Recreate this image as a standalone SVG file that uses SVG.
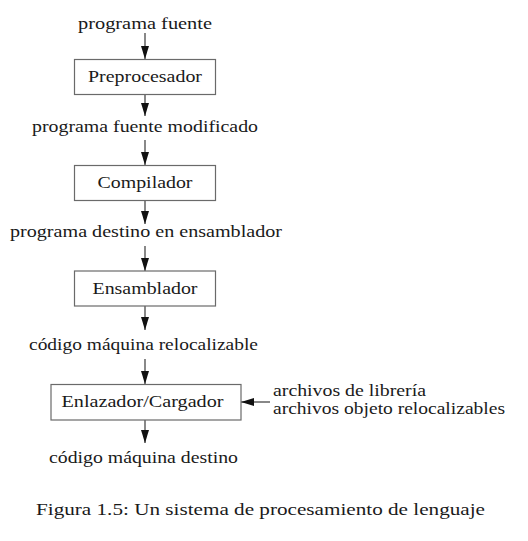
<svg xmlns="http://www.w3.org/2000/svg" width="528" height="541" viewBox="0 0 528 541">
<style>
  .bg { fill: #ffffff; }
  .box { fill: #ffffff; stroke: #6a6a6a; stroke-width: 1.2; }
  .t { font-family: "Liberation Serif", "DejaVu Serif", serif; font-size: 17.5px; fill: #1a1a1a; }
  .s { font-size: 16px; }
  .c { text-anchor: middle; }
  .edge { stroke: #3a3a3a; stroke-width: 1.2; fill: none; marker-end: url(#ah); }
</style>
<defs>
  <marker id="ah" viewBox="0 0 13 8" refX="13" refY="4" markerWidth="13" markerHeight="8" markerUnits="userSpaceOnUse" orient="auto">
    <path d="M0,0 L13,4 L0,8 Z" fill="#111111"/>
  </marker>
</defs>
<rect class="bg" x="0" y="0" width="528" height="541"/>

<g id="connectors">
  <line class="edge" x1="145" y1="33" x2="145" y2="59"/>
  <line class="edge" x1="145" y1="94" x2="145" y2="116"/>
  <line class="edge" x1="145" y1="140" x2="145" y2="165"/>
  <line class="edge" x1="145" y1="200" x2="145" y2="224"/>
  <line class="edge" x1="145" y1="246" x2="145" y2="271"/>
  <line class="edge" x1="145" y1="306" x2="145" y2="330"/>
  <line class="edge" x1="145" y1="359" x2="145" y2="384"/>
  <line class="edge" x1="145" y1="420" x2="145" y2="443"/>
  <line class="edge" x1="270" y1="402" x2="241" y2="402"/>
</g>

<g id="label-programa-fuente">
  <text class="t c" x="145" y="29" textLength="134" lengthAdjust="spacingAndGlyphs">programa fuente</text>
</g>
<g id="node-preprocesador">
  <rect class="box" x="74.5" y="59.5" width="141" height="35"/>
  <text class="t c" x="145" y="82" textLength="114" lengthAdjust="spacingAndGlyphs">Preprocesador</text>
</g>
<g id="label-programa-fuente-modificado">
  <text class="t c" x="145" y="132" textLength="226" lengthAdjust="spacingAndGlyphs">programa fuente modificado</text>
</g>
<g id="node-compilador">
  <rect class="box" x="74.5" y="165.5" width="141" height="35"/>
  <text class="t c" x="145" y="188" textLength="95" lengthAdjust="spacingAndGlyphs">Compilador</text>
</g>
<g id="label-programa-destino">
  <text class="t c" x="146" y="237" textLength="272" lengthAdjust="spacingAndGlyphs">programa destino en ensamblador</text>
</g>
<g id="node-ensamblador">
  <rect class="box" x="74.5" y="271" width="141" height="35"/>
  <text class="t c" x="145" y="294" textLength="105" lengthAdjust="spacingAndGlyphs">Ensamblador</text>
</g>
<g id="label-codigo-relocalizable">
  <text class="t c" x="143.5" y="350" textLength="229" lengthAdjust="spacingAndGlyphs">código máquina relocalizable</text>
</g>
<g id="node-enlazador">
  <rect class="box" x="51" y="384.5" width="190" height="35.5"/>
  <text class="t c" x="142.5" y="407" textLength="162" lengthAdjust="spacingAndGlyphs">Enlazador/Cargador</text>
</g>
<g id="label-archivos">
  <text class="t s" x="273" y="396" textLength="153" lengthAdjust="spacingAndGlyphs">archivos de librería</text>
  <text class="t s" x="273" y="414" textLength="232" lengthAdjust="spacingAndGlyphs">archivos objeto relocalizables</text>
</g>
<g id="label-codigo-destino">
  <text class="t c" x="143.5" y="463" textLength="189" lengthAdjust="spacingAndGlyphs">código máquina destino</text>
</g>
<g id="caption">
  <text class="t c" x="260.5" y="515" textLength="449" lengthAdjust="spacingAndGlyphs">Figura 1.5:  Un sistema de procesamiento de lenguaje</text>
</g>
</svg>
